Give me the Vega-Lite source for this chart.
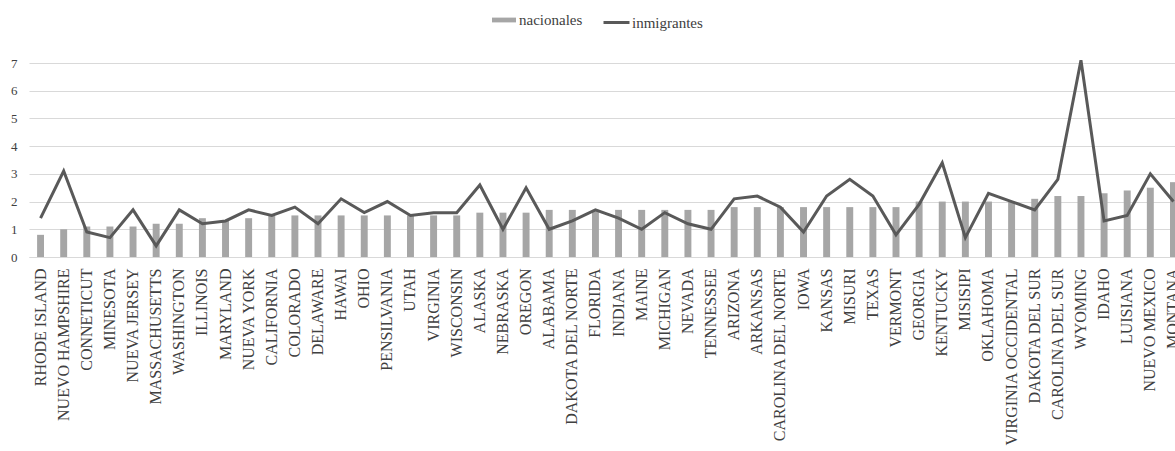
{
  "$schema": "https://vega.github.io/schema/vega-lite/v6.json",
  "autosize": {"type": "none"},
  "padding": {"left": 29, "top": 63, "right": 0, "bottom": 194},
  "width": 1146,
  "height": 194,
  "background": "white",
  "config": {
    "view": {"stroke": null},
    "font": "'Liberation Serif', 'DejaVu Serif', serif",
    "axis": {"labelFont": "'Liberation Serif', 'DejaVu Serif', serif"},
    "legend": {"labelFont": "'Liberation Serif', 'DejaVu Serif', serif"}
  },
  "data": {
    "values": [
      {"estado": "RHODE ISLAND", "nacionales": 0.8, "inmigrantes": 1.4},
      {"estado": "NUEVO HAMPSHIRE", "nacionales": 1.0, "inmigrantes": 3.1},
      {"estado": "CONNETICUT", "nacionales": 1.1, "inmigrantes": 0.9},
      {"estado": "MINESOTA", "nacionales": 1.1, "inmigrantes": 0.7},
      {"estado": "NUEVA JERSEY", "nacionales": 1.1, "inmigrantes": 1.7},
      {"estado": "MASSACHUSETTS", "nacionales": 1.2, "inmigrantes": 0.4},
      {"estado": "WASHINGTON", "nacionales": 1.2, "inmigrantes": 1.7},
      {"estado": "ILLINOIS", "nacionales": 1.4, "inmigrantes": 1.2},
      {"estado": "MARYLAND", "nacionales": 1.3, "inmigrantes": 1.3},
      {"estado": "NUEVA YORK", "nacionales": 1.4, "inmigrantes": 1.7},
      {"estado": "CALIFORNIA", "nacionales": 1.5, "inmigrantes": 1.5},
      {"estado": "COLORADO", "nacionales": 1.5, "inmigrantes": 1.8},
      {"estado": "DELAWARE", "nacionales": 1.5, "inmigrantes": 1.2},
      {"estado": "HAWAI", "nacionales": 1.5, "inmigrantes": 2.1},
      {"estado": "OHIO", "nacionales": 1.5, "inmigrantes": 1.6},
      {"estado": "PENSILVANIA", "nacionales": 1.5, "inmigrantes": 2.0},
      {"estado": "UTAH", "nacionales": 1.5, "inmigrantes": 1.5},
      {"estado": "VIRGINIA", "nacionales": 1.5, "inmigrantes": 1.6},
      {"estado": "WISCONSIN", "nacionales": 1.5, "inmigrantes": 1.6},
      {"estado": "ALASKA", "nacionales": 1.6, "inmigrantes": 2.6},
      {"estado": "NEBRASKA", "nacionales": 1.6, "inmigrantes": 1.0},
      {"estado": "OREGON", "nacionales": 1.6, "inmigrantes": 2.5},
      {"estado": "ALABAMA", "nacionales": 1.7, "inmigrantes": 1.0},
      {"estado": "DAKOTA DEL NORTE", "nacionales": 1.7, "inmigrantes": 1.3},
      {"estado": "FLORIDA", "nacionales": 1.7, "inmigrantes": 1.7},
      {"estado": "INDIANA", "nacionales": 1.7, "inmigrantes": 1.4},
      {"estado": "MAINE", "nacionales": 1.7, "inmigrantes": 1.0},
      {"estado": "MICHIGAN", "nacionales": 1.7, "inmigrantes": 1.6},
      {"estado": "NEVADA", "nacionales": 1.7, "inmigrantes": 1.2},
      {"estado": "TENNESSEE", "nacionales": 1.7, "inmigrantes": 1.0},
      {"estado": "ARIZONA", "nacionales": 1.8, "inmigrantes": 2.1},
      {"estado": "ARKANSAS", "nacionales": 1.8, "inmigrantes": 2.2},
      {"estado": "CAROLINA DEL NORTE", "nacionales": 1.8, "inmigrantes": 1.8},
      {"estado": "IOWA", "nacionales": 1.8, "inmigrantes": 0.9},
      {"estado": "KANSAS", "nacionales": 1.8, "inmigrantes": 2.2},
      {"estado": "MISURI", "nacionales": 1.8, "inmigrantes": 2.8},
      {"estado": "TEXAS", "nacionales": 1.8, "inmigrantes": 2.2},
      {"estado": "VERMONT", "nacionales": 1.8, "inmigrantes": 0.8},
      {"estado": "GEORGIA", "nacionales": 2.0, "inmigrantes": 1.9},
      {"estado": "KENTUCKY", "nacionales": 2.0, "inmigrantes": 3.4},
      {"estado": "MISISIPI", "nacionales": 2.0, "inmigrantes": 0.7},
      {"estado": "OKLAHOMA", "nacionales": 2.0, "inmigrantes": 2.3},
      {"estado": "VIRGINIA OCCIDENTAL", "nacionales": 2.0, "inmigrantes": 2.0},
      {"estado": "DAKOTA DEL SUR", "nacionales": 2.1, "inmigrantes": 1.7},
      {"estado": "CAROLINA DEL SUR", "nacionales": 2.2, "inmigrantes": 2.8},
      {"estado": "WYOMING", "nacionales": 2.2, "inmigrantes": 7.1},
      {"estado": "IDAHO", "nacionales": 2.3, "inmigrantes": 1.3},
      {"estado": "LUISIANA", "nacionales": 2.4, "inmigrantes": 1.5},
      {"estado": "NUEVO MEXICO", "nacionales": 2.5, "inmigrantes": 3.0},
      {"estado": "MONTANA", "nacionales": 2.7, "inmigrantes": 2.0}
    ]
  },
  "encoding": {
    "x": {
      "field": "estado",
      "type": "nominal",
      "sort": null,
      "title": null,
      "scale": {"range": [0, 1156], "paddingInner": 0.7, "paddingOuter": 0.35},
      "axis": {
        "labelAngle": -90,
        "labelFontSize": 16,
        "labelColor": "#404040",
        "labelPadding": 11,
        "labelOverlap": false,
        "labelLimit": 400,
        "ticks": false,
        "domainColor": "#d9d9d9",
        "domainWidth": 1,
        "grid": false
      }
    }
  },
  "layer": [
    {
      "mark": {"type": "bar"},
      "encoding": {
        "y": {
          "field": "nacionales",
          "type": "quantitative",
          "title": null,
          "scale": {"domain": [0, 7], "nice": false},
          "axis": {
            "values": [0, 1, 2, 3, 4, 5, 6, 7],
            "labelFontSize": 13,
            "labelColor": "#404040",
            "labelPadding": 12,
            "labelOverlap": false,
            "ticks": false,
            "domain": false,
            "gridColor": "#d9d9d9",
            "gridWidth": 1
          }
        },
        "fill": {
          "datum": "nacionales",
          "scale": {"range": ["#a6a6a6"]},
          "legend": {
            "title": null,
            "orient": "none",
            "legendX": 463,
            "legendY": -55,
            "padding": 0,
            "symbolType": "M-1,-0.2H1V0.2H-1Z",
            "symbolSize": 576,
            "symbolStrokeWidth": 0,
            "labelOffset": 3,
            "labelFontSize": 15,
            "labelColor": "#404040"
          }
        }
      }
    },
    {
      "mark": {"type": "line", "strokeWidth": 3},
      "encoding": {
        "y": {
          "field": "inmigrantes",
          "type": "quantitative",
          "title": null,
          "axis": {
            "values": [0, 1, 2, 3, 4, 5, 6, 7],
            "labelFontSize": 13,
            "labelColor": "#404040",
            "labelPadding": 12,
            "labelOverlap": false,
            "ticks": false,
            "domain": false,
            "gridColor": "#d9d9d9",
            "gridWidth": 1
          }
        },
        "stroke": {
          "datum": "inmigrantes",
          "scale": {"range": ["#595959"]},
          "legend": {
            "title": null,
            "orient": "none",
            "legendX": 573,
            "legendY": -55,
            "padding": 0,
            "symbolType": "stroke",
            "symbolSize": 676,
            "symbolStrokeWidth": 3,
            "labelOffset": 1,
            "labelFontSize": 15,
            "labelColor": "#404040"
          }
        }
      }
    }
  ]
}
